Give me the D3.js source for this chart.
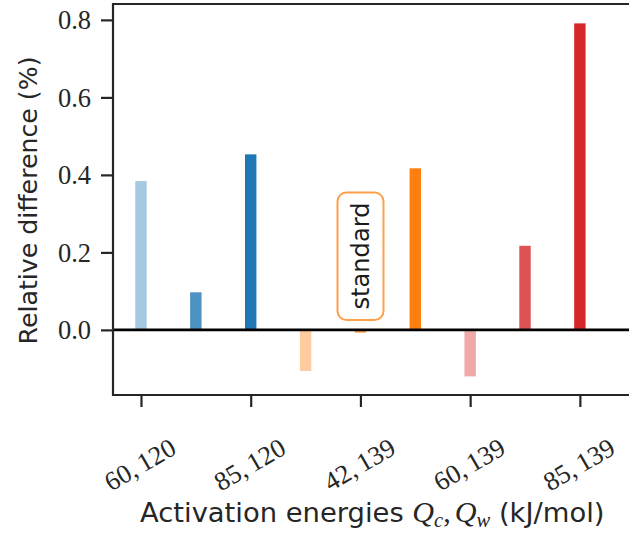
<!DOCTYPE html>
<html>
<head>
<meta charset="utf-8">
<script src="https://cdn.jsdelivr.net/npm/d3@7"></script>
<style>
  html, body { margin: 0; padding: 0; background: #fff; }
  svg { display: block; }
</style>
</head>
<body>
<svg id="chart" width="629" height="542"></svg>
<script>
// ---- data ----
const barValues = [0.384, 0.097, 0.453, -0.106, -0.007, 0.417, -0.120, 0.217, 0.791];
const barBaseColors = ["#1f77b4", "#1f77b4", "#1f77b4", "#ff7f0e", "#ff7f0e", "#ff7f0e", "#d62728", "#d62728", "#d62728"];
const barAlphas = [0.4, 0.8, 1.0, 0.4, 0.8, 1.0, 0.4, 0.8, 1.0];
const tickPositions = [0, 2, 4, 6, 8];
const tickLabels = [["60", "120"], ["85", "120"], ["42", "139"], ["60", "139"], ["85", "139"]];
const yTicks = [0.0, 0.2, 0.4, 0.6, 0.8];
const annotationText = "standard";
const annotationIndex = 4;
const yLabel = "Relative difference (%)";

// ---- layout ----
const svg = d3.select("#chart");
const pLeft = 113, pRight = 632, pTop = 4, pBottom = 395;
const x = d3.scaleLinear().domain([-0.51, 8.95]).range([pLeft, pRight]);
const y = d3.scaleLinear().domain([-0.168, 0.841]).range([pBottom, pTop]);
const spine = "#262626";
const serif = "'Liberation Serif', 'DejaVu Serif', serif";
const sans = "'DejaVu Sans', sans-serif";

function blend(hex, a) {
  const c = d3.rgb(hex);
  return d3.rgb(255 - a * (255 - c.r), 255 - a * (255 - c.g), 255 - a * (255 - c.b)).formatHex();
}
function fitLength(sel, target) {
  const w = sel.node().getComputedTextLength();
  const fs = parseFloat(sel.attr("font-size"));
  sel.attr("font-size", fs * target / w);
}

// bars
const halfW = 0.104;
svg.append("g").selectAll("rect").data(barValues).join("rect")
  .attr("x", (d, i) => x(i - halfW))
  .attr("width", (d, i) => x(i + halfW) - x(i - halfW))
  .attr("y", d => y(Math.max(0, d)))
  .attr("height", d => Math.abs(y(d) - y(0)))
  .attr("fill", (d, i) => blend(barBaseColors[i], barAlphas[i]));

// zero line
svg.append("line")
  .attr("x1", pLeft).attr("x2", pRight)
  .attr("y1", y(0)).attr("y2", y(0))
  .attr("stroke", "#000").attr("stroke-width", 2.6);

// spines
svg.append("path")
  .attr("d", `M${pRight},${pTop}H${pLeft}V${pBottom}H${pRight}`)
  .attr("fill", "none").attr("stroke", spine).attr("stroke-width", 2.2);

// y axis ticks
const yAxis = svg.append("g")
  .attr("transform", `translate(${pLeft},0)`)
  .call(d3.axisLeft(y).tickValues(yTicks).tickFormat(d3.format(".1f")).tickSize(12).tickPadding(10));
yAxis.select(".domain").remove();
yAxis.selectAll(".tick line").attr("stroke", spine).attr("stroke-width", 2.2);
yAxis.selectAll(".tick text")
  .attr("font-family", serif).attr("font-size", 26.5).attr("fill", "#262626")
  .attr("dy", "0.34em");

// x axis ticks
const xAxis = svg.append("g")
  .attr("transform", `translate(0,${pBottom})`)
  .call(d3.axisBottom(x).tickValues(tickPositions).tickSize(12).tickFormat(""));
xAxis.select(".domain").remove();
xAxis.selectAll(".tick line").attr("stroke", spine).attr("stroke-width", 2.2);

// x tick labels (rotated 30 deg)
const xl = svg.append("g").selectAll("text").data(tickPositions).join("text")
  .attr("transform", d => `translate(${x(d) - 1},${464.5}) rotate(-30)`)
  .attr("text-anchor", "middle")
  .attr("dominant-baseline", "central")
  .attr("font-family", serif).attr("font-size", 26.5).attr("fill", "#262626");
xl.each(function(d, i) {
  const t = d3.select(this);
  t.append("tspan").text(tickLabels[i][0] + ",");
  t.append("tspan").attr("dx", 4.5).text(tickLabels[i][1]);
});

// y label
const yl = svg.append("text")
  .attr("transform", `translate(37,${(pTop + pBottom) / 2 + 1}) rotate(-90)`)
  .attr("text-anchor", "middle")
  .attr("font-family", sans).attr("font-size", 25).attr("fill", "#262626")
  .text(yLabel);
fitLength(yl, 288);

// x label with math
const xlab = svg.append("text")
  .attr("x", 0).attr("y", 522)
  .attr("font-family", sans).attr("font-size", 25).attr("fill", "#262626");
xlab.append("tspan").text("Activation energies ");
xlab.append("tspan").attr("font-family", serif).attr("font-style", "italic").attr("font-size", "1.1em").text("Q");
xlab.append("tspan").attr("font-family", serif).attr("font-style", "italic").attr("font-size", "0.75em").attr("dy", 5).text("c");
xlab.append("tspan").attr("font-family", serif).attr("font-size", "1.1em").attr("dy", -5).text(",");
xlab.append("tspan").attr("font-family", serif).attr("font-style", "italic").attr("font-size", "1.1em").attr("dx", 4).text("Q");
xlab.append("tspan").attr("font-family", serif).attr("font-style", "italic").attr("font-size", "0.75em").attr("dy", 5).text("w");
xlab.append("tspan").attr("dy", -5).text(" (kJ/mol)");
(function () {
  const target = 465;
  const bb = xlab.node().getBBox();
  const fs = 25 * target / bb.width;
  xlab.attr("font-size", fs);
  const bb2 = xlab.node().getBBox();
  xlab.attr("x", 140 - bb2.x);
})();

// annotation box "standard"
const ax = x(annotationIndex);
const ann = svg.append("g");
const boxCy = 256;
ann.append("rect")
  .attr("x", 337.5).attr("y", 192.5)
  .attr("width", 46).attr("height", 127.5)
  .attr("rx", 9).attr("ry", 9)
  .attr("fill", "#fff")
  .attr("stroke", blend("#ff7f0e", 0.75)).attr("stroke-width", 2);
const st = ann.append("text")
  .attr("transform", `translate(${ax + 8.5},${boxCy}) rotate(-90)`)
  .attr("text-anchor", "middle")
  .attr("font-family", sans).attr("font-size", 24).attr("fill", "#1a1a1a")
  .text(annotationText);
fitLength(st, 107);
</script>
</body>
</html>
